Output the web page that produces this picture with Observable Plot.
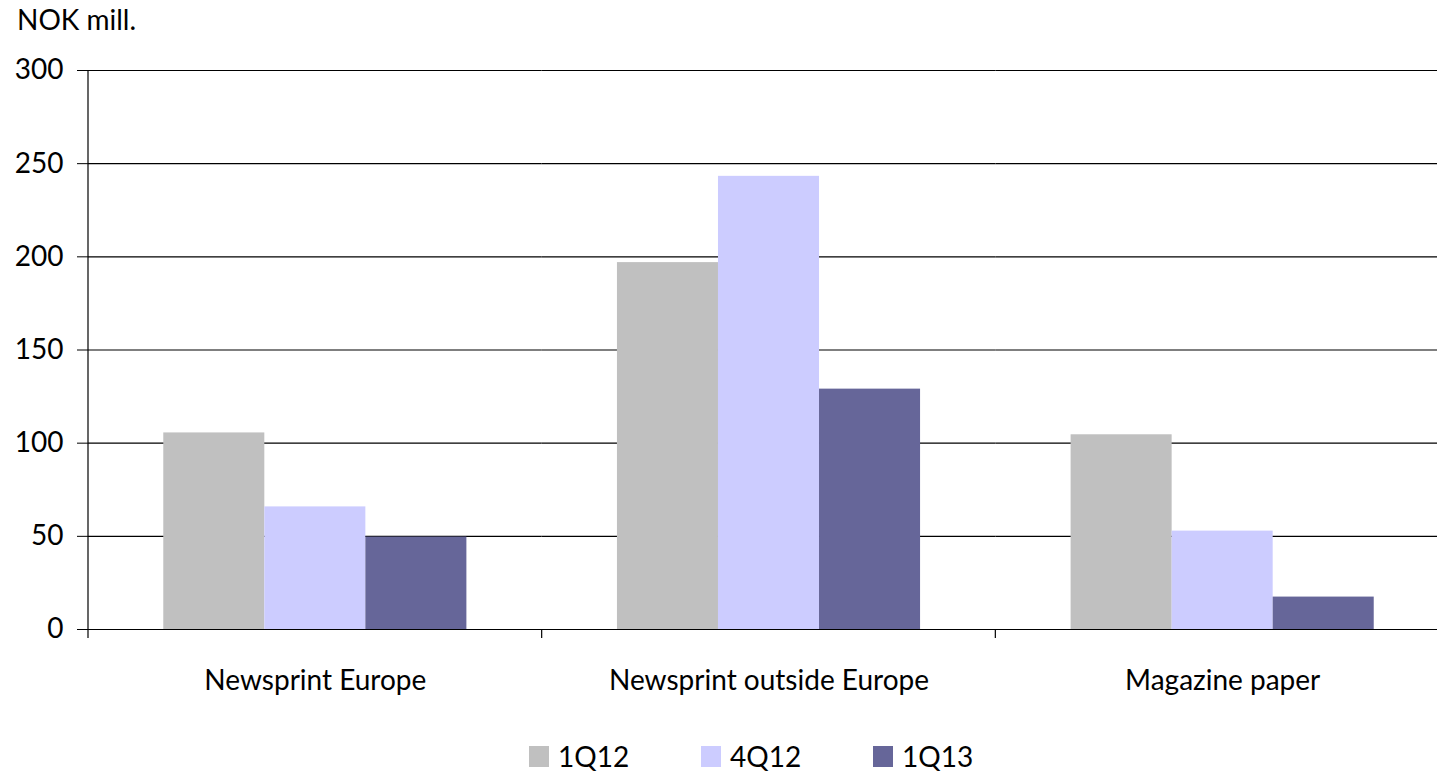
<!DOCTYPE html>
<html>
<head>
<meta charset="utf-8">
<script src="https://cdn.jsdelivr.net/npm/d3@7"></script>
<script src="https://cdn.jsdelivr.net/npm/@observablehq/plot@0.6"></script>
<style>
  html, body { margin: 0; padding: 0; background: #fff; overflow: hidden; }
  #wrap { position: relative; width: 1437px; height: 774px; font-family: Lato, sans-serif; color: #000; }
  #title { position: absolute; left: 17px; top: 5px; font-size: 28px; line-height: 28px; white-space: nowrap; }
  #legend { position: absolute; left: 529px; top: 742px; display: flex; font-size: 28px; line-height: 28px; }
  .item { display: flex; align-items: center; width: 172px; }
  .sw { width: 20px; height: 21px; margin-right: 9px; }
  #chart svg { overflow: hidden; display: block; }
</style>
</head>
<body>
<div id="wrap">
  <div id="chart"></div>
  <div id="title">NOK mill.</div>
  <div id="legend"></div>
</div>
<script>
const categories = ["Newsprint Europe", "Newsprint outside Europe", "Magazine paper"];
const series = ["1Q12", "4Q12", "1Q13"];
const values1Q12 = [105.5, 196.9, 104.5];
const values4Q12 = [65.8, 243.2, 52.8];
const values1Q13 = [49.6, 129.0, 17.4];
const colors = ["#c0c0c0", "#ccccff", "#666699"];
const yTicks = [0, 50, 100, 150, 200, 250, 300];
const yTitle = "NOK mill.";

const seriesValues = [values1Q12, values4Q12, values1Q13];
const data = [];
categories.forEach((c, i) => series.forEach((s, j) => data.push({category: c, series: s, value: seriesValues[j][i]})));

const chart = Plot.plot({
  width: 1437,
  height: 710,
  marginTop: 70,
  marginBottom: 81,
  marginLeft: 88,
  marginRight: -12,
  style: {fontFamily: "Lato, sans-serif", fontSize: "28px", color: "#000", overflow: "hidden"},
  fx: {domain: categories, padding: 0, label: null, round: false},
  x: {domain: series, paddingInner: 0, paddingOuter: 0.745, axis: null, round: false},
  y: {domain: [0, 300], label: null},
  color: {domain: series, range: colors},
  marks: [
    Plot.ruleY(yTicks, {stroke: "#000", strokeWidth: 1.2}),
    Plot.barY(data, {fx: "category", x: "series", y: "value", fill: "series"}),
    Plot.ruleY([0], {stroke: "#000", strokeWidth: 1.2}),
    Plot.axisY({ticks: yTicks, tickSize: 11, tickPadding: 14, label: null, fontSize: 28, stroke: "#000", strokeOpacity: 1}),
    Plot.axisFx({anchor: "bottom", tickSize: 0, tickPadding: 41, label: null, fontSize: 28})
  ]
});
document.getElementById("chart").appendChild(chart);

// Category boundary ticks and vertical axis line, from the plot's own scales
const fx = chart.scale("fx");
const y = chart.scale("y");
const y0 = y.apply(0), yTop = y.apply(300);
const svg = d3.select(chart);
const g = svg.append("g").attr("stroke", "#000").attr("stroke-width", 1.2);
categories.forEach((c, i) => {
  const xpos = fx.range[0] + i * fx.step;
  g.append("line")
    .attr("x1", xpos).attr("x2", xpos)
    .attr("y1", i === 0 ? yTop : y0).attr("y2", y0 + 9);
});

// Legend
const legend = d3.select("#legend");
series.forEach((s, i) => {
  const it = legend.append("div").attr("class", "item");
  it.append("div").attr("class", "sw").style("background", colors[i]);
  it.append("span").text(s);
});
</script>
</body>
</html>
